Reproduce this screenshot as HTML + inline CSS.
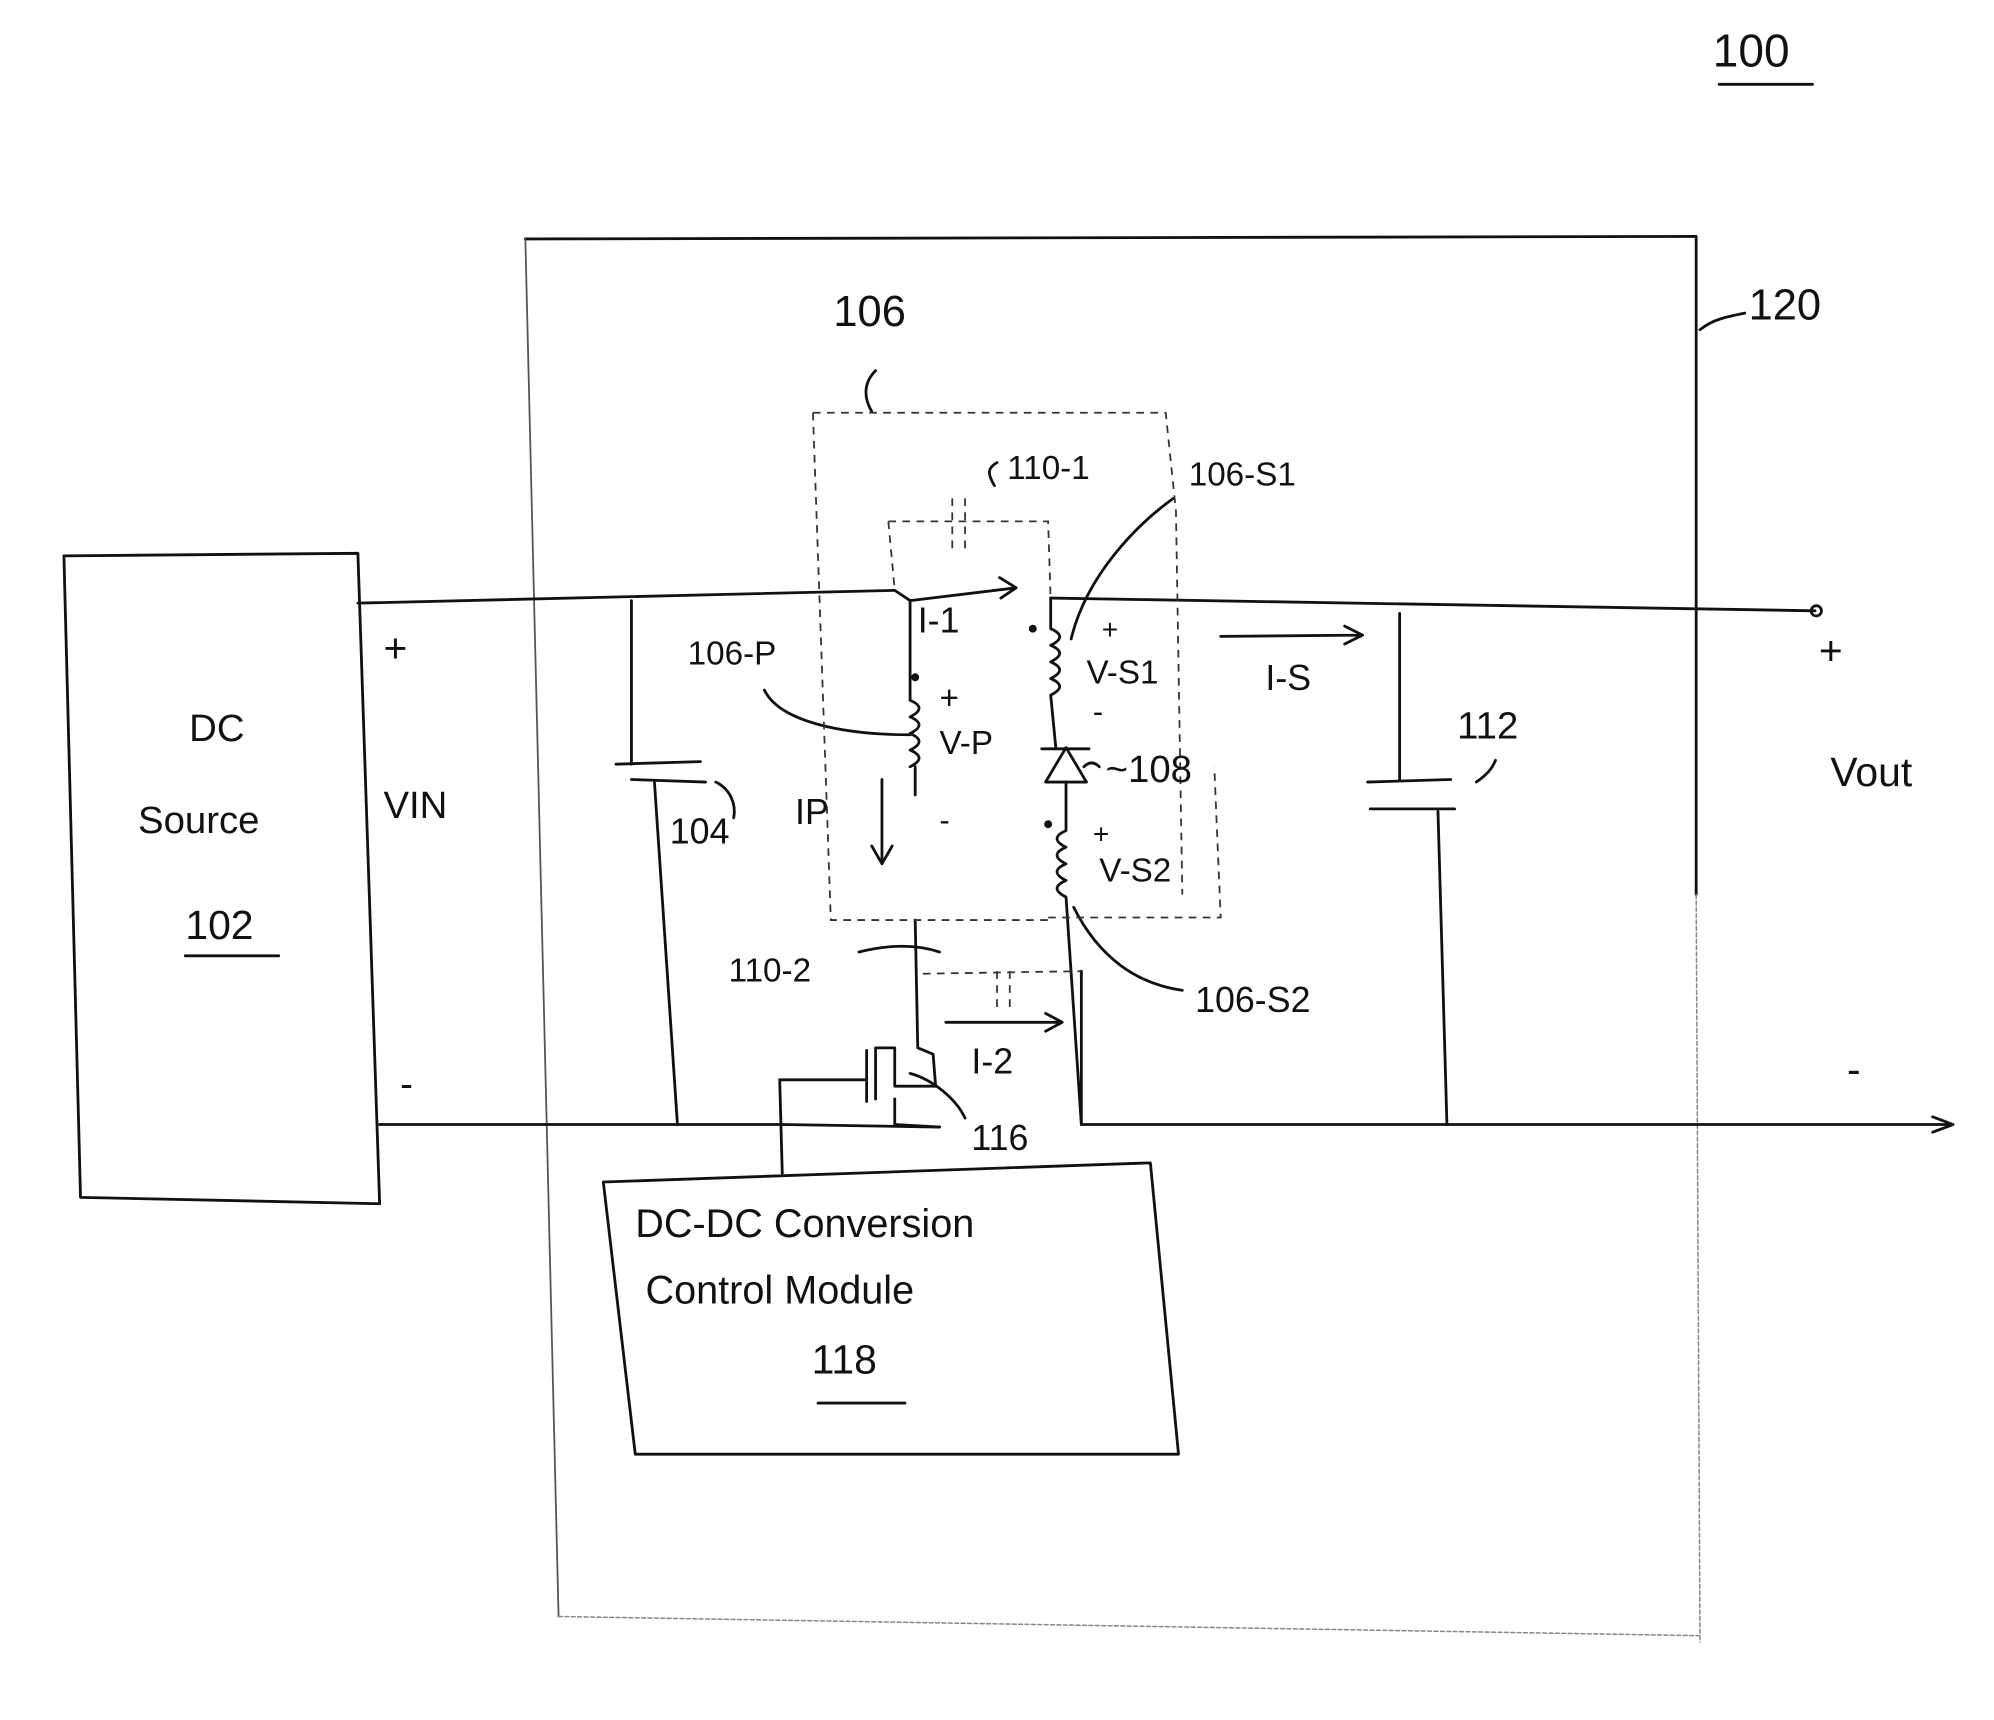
<!DOCTYPE html>
<html><head><meta charset="utf-8"><style>
html,body{margin:0;padding:0;background:#fff;}
svg{display:block;}
text{font-family:"Liberation Sans",sans-serif;fill:#111;}
</style></head><body>
<svg width="1994" height="1720" viewBox="0 0 1560 1346" preserveAspectRatio="none" xmlns="http://www.w3.org/2000/svg">
<g fill="none" stroke="#111" stroke-width="2.2" stroke-linecap="round" stroke-linejoin="round">
<!-- 100 -->
<line x1="1345" y1="66" x2="1418" y2="66"/>
<!-- box 120 -->
<path d="M411 187 L1327 185 L1327 700"/>
<path d="M411 187 L437 1265" stroke="#555" stroke-width="1.4"/>
<path d="M1327 700 L1330 1285 M437 1265 L1330 1280" stroke="#888" stroke-width="1.2" stroke-dasharray="3 2"/>
<path d="M1330 258 C1340 250 1350 248 1365 245"/>
<!-- DC source -->
<path d="M50 435 L280 433 L297 942 L63 937 Z"/>
<line x1="145" y1="748" x2="218" y2="748"/>
<!-- top wire -->
<path d="M280 472 L700 462"/>
<path d="M700 462 L712 470 L712 548"/>
<path d="M712 548 q14 6 0 13 q14 6 0 13 q14 6 0 13 q14 6 0 13"/>
<path d="M716 600 L716 622 M716 720 L718 820 L730 825 L732 850"/>
<path d="M822 468 L1420 478"/>
<circle cx="1421" cy="478" r="4"/>
<!-- secondary -->
<path d="M822 468 L822 492 q14 6 0 13 q14 6 0 13 q14 6 0 13 q14 6 0 13 L826 585"/>
<path d="M818 612 L834 585 L850 612 Z"/>
<line x1="815" y1="586" x2="852" y2="586"/>
<path d="M834 612 L834 650 q-14 6 0 13 q-14 6 0 13 q-14 6 0 13 q-14 6 0 13 L846 880"/>
<circle cx="808" cy="492" r="2" fill="#111"/>
<circle cx="716" cy="530" r="2" fill="#111"/>
<circle cx="820" cy="645" r="2" fill="#111"/>
<!-- cap 104 -->
<path d="M494 470 L494 598 M482 598 L548 596 M494 610 L552 612 M512 612 L530 880"/>
<path d="M560 612 C572 618 576 630 574 640"/>
<!-- cap 112 -->
<path d="M1095 480 L1095 610 M1070 612 L1135 610 M1072 633 L1138 633 M1125 635 L1132 880"/>
<path d="M1155 612 C1165 605 1168 600 1170 595"/>
<!-- bottom wire -->
<path d="M297 880 L612 880 M612 880 L735 882 M846 880 L1525 880"/>
<path d="M1512 874 L1528 880 L1512 886"/>
<!-- MOSFET 116 -->
<path d="M732 850 L700 850 L700 820 L685 820 L685 860 M678 822 L678 862 M678 845 L610 845 L612 918 M700 860 L700 880 L735 882"/>
<path d="M712 840 C730 845 748 860 755 875"/>
<!-- I-2 branch -->
<path d="M846 760 L846 880"/>
<!-- control box -->
<path d="M472 925 L900 910 L922 1138 L497 1138 Z"/>
<line x1="640" y1="1098" x2="708" y2="1098"/>
<!-- arrows -->
<path d="M712 470 L795 460 M782 452 L795 460 L783 468"/>
<path d="M955 498 L1065 497 M1052 490 L1066 497 L1052 504"/>
<path d="M740 800 L830 800 M818 793 L831 800 L818 807"/>
<path d="M690 610 L690 675 M682 662 L690 676 L698 662"/>
<!-- leaders -->
<path d="M598 540 C610 565 660 575 712 575"/>
<path d="M838 500 C850 450 890 410 918 390"/>
<path d="M840 710 C860 750 890 770 925 775"/>
<path d="M672 745 C700 738 720 740 735 745"/>
<path d="M685 290 C675 300 676 312 682 322"/>
<path d="M778 380 C772 370 773 366 780 362"/>
<path d="M848 600 C852 596 856 596 860 600"/>
</g>
<g fill="none" stroke="#333" stroke-width="1.4" stroke-dasharray="6 5">
<path d="M636 323 L912 323 L920 400 L925 700"/>
<path d="M636 323 L650 720 L820 720"/>
<path d="M695 408 L820 408 L822 470 M695 408 L700 462"/>
<path d="M820 718 L955 718 L950 600"/>
<path d="M745 390 L745 430 M755 390 L755 430"/>
<path d="M722 762 L846 760 M780 760 L780 790 M790 760 L790 790"/>
</g>
<g font-size="34">
<text x="1340" y="52" font-size="36">100</text>
<text x="1368" y="250">120</text>
<text x="652" y="255">106</text>
<text x="788" y="375" font-size="26">110-1</text>
<text x="930" y="380" font-size="26">106-S1</text>
<text x="538" y="520" font-size="26">106-P</text>
<text x="718" y="495" font-size="28">I-1</text>
<text x="850" y="535" font-size="26">V-S1</text>
<text x="990" y="540" font-size="28">I-S</text>
<text x="735" y="590" font-size="26">V-P</text>
<text x="735" y="555" font-size="26">+</text>
<text x="862" y="500" font-size="22">+</text>
<text x="855" y="565" font-size="24">-</text>
<text x="855" y="660" font-size="22">+</text>
<text x="860" y="690" font-size="26">V-S2</text>
<text x="735" y="650" font-size="24">-</text>
<text x="865" y="612" font-size="30">~108</text>
<text x="622" y="645" font-size="28">IP</text>
<text x="524" y="660" font-size="28">104</text>
<text x="1140" y="578" font-size="30">112</text>
<text x="570" y="768" font-size="26">110-2</text>
<text x="935" y="792" font-size="28">106-S2</text>
<text x="760" y="840" font-size="28">I-2</text>
<text x="760" y="900" font-size="28">116</text>
<text x="148" y="580" font-size="30">DC</text>
<text x="108" y="652" font-size="30">Source</text>
<text x="145" y="735" font-size="32">102</text>
<text x="300" y="518" font-size="32">+</text>
<text x="300" y="640" font-size="30">VIN</text>
<text x="313" y="858" font-size="30">-</text>
<text x="1423" y="520" font-size="32">+</text>
<text x="1432" y="615" font-size="32">Vout</text>
<text x="1445" y="848" font-size="32">-</text>
<text x="497" y="968" font-size="31">DC-DC Conversion</text>
<text x="505" y="1020" font-size="31">Control Module</text>
<text x="635" y="1075" font-size="32">118</text>
</g>
</svg>
</body></html>
